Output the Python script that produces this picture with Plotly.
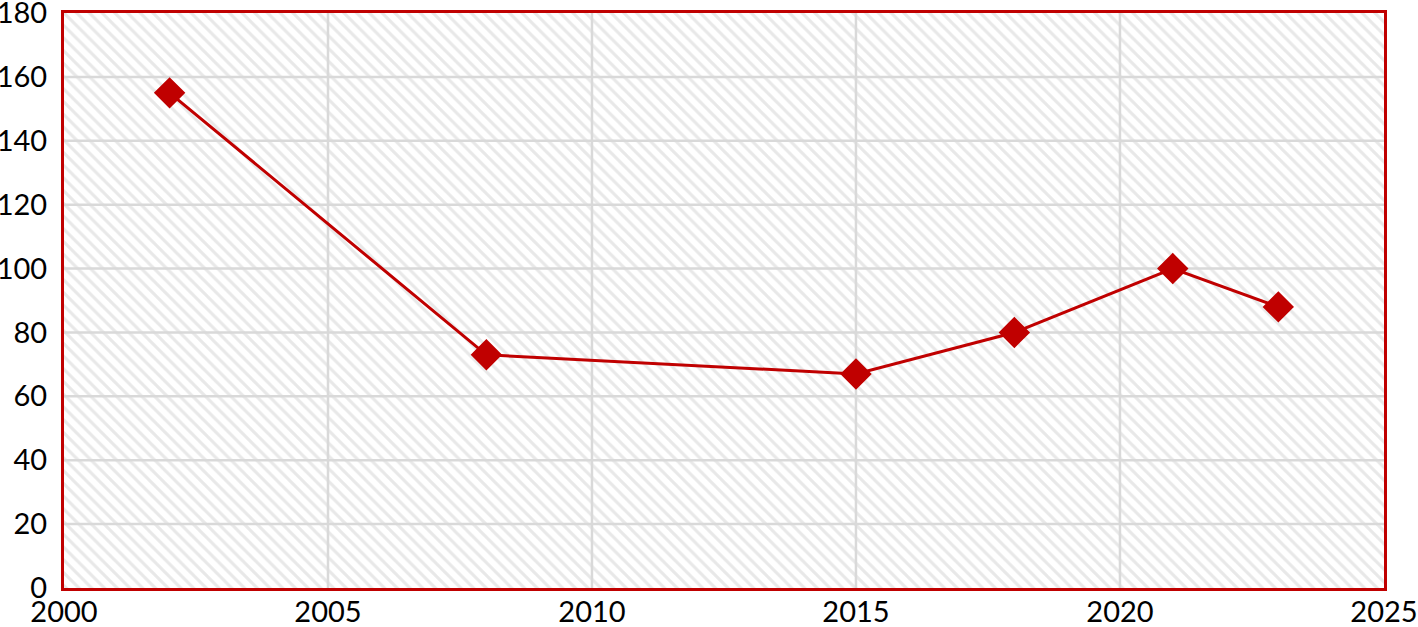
import plotly.graph_objects as go

years = [2002, 2008, 2015, 2018, 2021, 2023]
values = [155, 73, 67, 80, 100, 88]

x_ticks = [2000, 2005, 2010, 2015, 2020, 2025]
y_ticks = [0, 20, 40, 60, 80, 100, 120, 140, 160, 180]

RED = "#c00000"
GRID = "#d9d9d9"
x_min, x_max = x_ticks[0], x_ticks[-1]
y_min, y_max = y_ticks[0], y_ticks[-1]

fig = go.Figure()

# hatched plot background
fig.add_trace(go.Scatter(
    x=[x_min, x_max, x_max, x_min, x_min],
    y=[y_min, y_min, y_max, y_max, y_min],
    fill="toself", mode="none", hoverinfo="skip",
    fillcolor="white",
    fillpattern=dict(shape="\\", fgcolor="#d2d2d2", bgcolor="white",
                     size=9, solidity=0.35),
))

# gridlines drawn on top of the hatching
gx, gy = [], []
for t in x_ticks[1:-1]:
    gx += [t, t, None]
    gy += [y_min, y_max, None]
for t in y_ticks[1:-1]:
    gx += [x_min, x_max, None]
    gy += [t, t, None]
fig.add_trace(go.Scatter(x=gx, y=gy, mode="lines", hoverinfo="skip",
                         line=dict(color=GRID, width=2.5)))

fig.add_trace(go.Scatter(
    x=years, y=values, mode="lines+markers",
    line=dict(color=RED, width=3),
    marker=dict(symbol="diamond", size=22, color=RED,
                line=dict(color=RED, width=2)),
))

axis_font = dict(family="Lato, Calibri, sans-serif", size=29, color="black")
fig.update_xaxes(range=[x_min, x_max + 0.001], tickvals=x_ticks, showgrid=False,
                 zeroline=False, showline=True, mirror=True, linecolor=RED,
                 linewidth=3, ticks="", tickfont=axis_font, automargin=False,
                 ticklabelstandoff=-4, ticklabeloverflow="allow")
fig.update_yaxes(range=[y_min, y_max + 0.001], tickvals=y_ticks, showgrid=False,
                 zeroline=False, showline=True, mirror=True, linecolor=RED,
                 linewidth=3, ticks="", tickfont=axis_font, automargin=False,
                 ticklabelstandoff=8, ticklabeloverflow="allow")

fig.update_layout(
    width=1418, height=627,
    margin=dict(l=64, r=34, t=13, b=39),
    plot_bgcolor="white", paper_bgcolor="white",
    showlegend=False,
)

# drop the default 8px page margin so the figure fills the window
fig.write_html("out.html", config={"displayModeBar": False},
               post_script="document.body.style.margin = '0';")
